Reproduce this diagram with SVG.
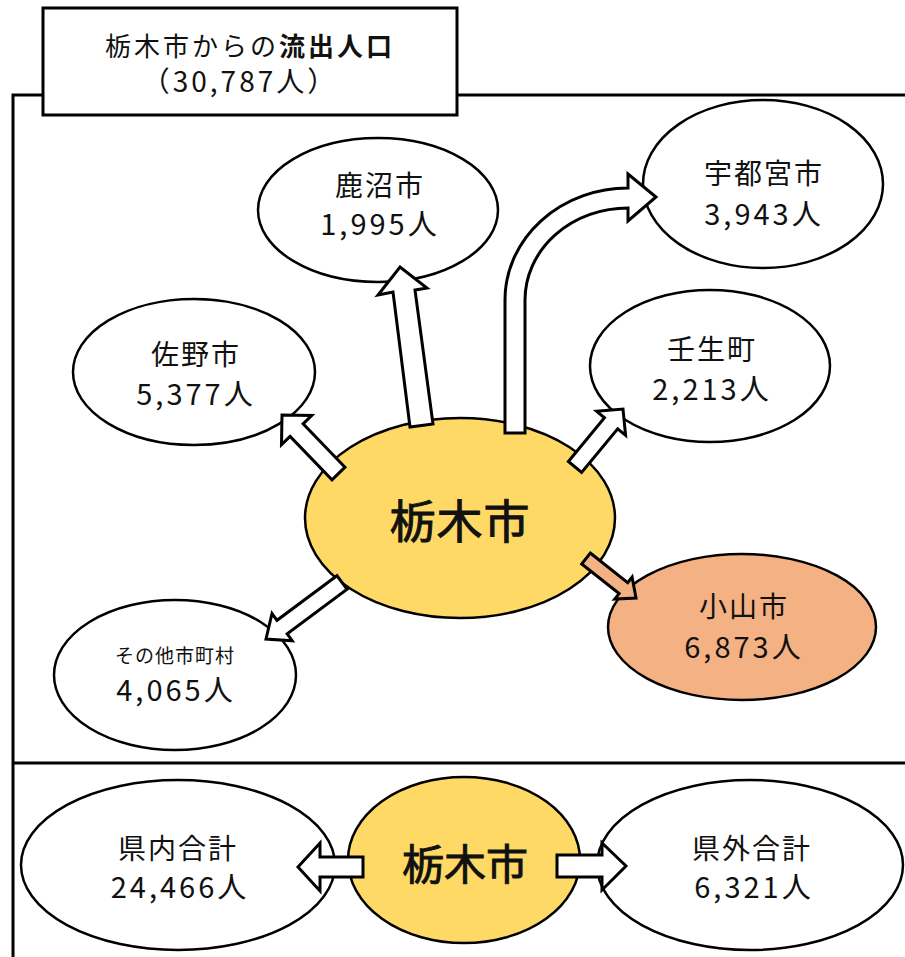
<svg xmlns="http://www.w3.org/2000/svg" width="905" height="957" viewBox="0 0 905 957">
<style>
text{font-family:"Noto Sans CJK JP","Noto Sans",sans-serif;fill:#111;text-anchor:middle;dominant-baseline:central}
.node{fill:#fff;stroke:#000;stroke-width:2.5}
.center{fill:#FFD966;stroke:#000;stroke-width:2.5}
.oyama{fill:#F4B183;stroke:#000;stroke-width:2.5}
.arr{fill:#fff;stroke:#000;stroke-width:3;stroke-linejoin:miter}
.arrs{fill:#F4B183;stroke:#000;stroke-width:3;stroke-linejoin:miter}
.frame{fill:none;stroke:#000;stroke-width:3}
.lbl{font-size:28px;letter-spacing:2px}
.num{font-size:29px;letter-spacing:3px}
.big{stroke:#111;stroke-width:0.9}
</style>
<rect width="905" height="957" fill="#fff"/>
<g id="frame">
<path class="frame" d="M13,957 V95 H43 M457,95 H905 M13,763 H905"/>
</g>
<g id="title">
<rect x="43" y="8" width="414" height="107" fill="#fff" stroke="#000" stroke-width="3"/>
<text x="250" y="44" style="font-size:26px;letter-spacing:3px">栃木市からの<tspan font-weight="bold">流出人口</tspan></text>
<text x="240" y="80" style="font-size:28px;letter-spacing:3px">（30,787人）</text>
</g>
<g id="kanuma">
<ellipse class="node" cx="378" cy="210" rx="120" ry="72"/>
<text class="lbl" x="380" y="184">鹿沼市</text>
<text class="num" x="380" y="222">1,995人</text>
</g>
<g id="utsunomiya">
<ellipse class="node" cx="763" cy="184" rx="120" ry="84"/>
<text class="lbl" x="764" y="172">宇都宮市</text>
<text class="num" x="764" y="212">3,943人</text>
</g>
<g id="sano">
<ellipse class="node" cx="194" cy="372" rx="121" ry="73"/>
<text class="lbl" x="196" y="353">佐野市</text>
<text class="num" x="196" y="392">5,377人</text>
</g>
<g id="mibu">
<ellipse class="node" cx="710" cy="366" rx="120" ry="76"/>
<text class="lbl" x="712" y="348">壬生町</text>
<text class="num" x="712" y="387">2,213人</text>
</g>
<g id="tochigi">
<ellipse class="center" cx="460" cy="518" rx="155" ry="100"/>
<text class="big" x="460" y="518" style="font-size:46px;letter-spacing:1px">栃木市</text>
</g>
<g id="oyama">
<ellipse class="oyama" cx="742" cy="627" rx="134" ry="73"/>
<text class="lbl" x="744" y="605">小山市</text>
<text class="num" x="744" y="645">6,873人</text>
</g>
<g id="others">
<ellipse class="node" cx="175" cy="675" rx="121" ry="75"/>
<text x="175" y="654" style="font-size:19px;letter-spacing:1px">その他市町村</text>
<text class="num" x="176" y="688">4,065人</text>
</g>
<g id="kennai">
<ellipse class="node" cx="178" cy="865" rx="157" ry="85"/>
<text class="lbl" x="178" y="847">県内合計</text>
<text class="num" x="180" y="885">24,466人</text>
</g>
<g id="tochigi2">
<ellipse class="center" cx="464" cy="860" rx="116" ry="83"/>
<text class="big" x="465" y="861" style="font-size:42px">栃木市</text>
</g>
<g id="kengai">
<ellipse class="node" cx="750" cy="865" rx="153" ry="85"/>
<text class="lbl" x="752" y="847">県外合計</text>
<text class="num" x="754" y="885">6,321人</text>
</g>
<g id="connectors">
<polygon class="arr" points="400,267 427,288 415,290 433,424 410,427 393,292 378,295"/>
<path class="arr" d="M505,433 L505,300 A123,112 0 0 1 628,188 L628,174 L656,197 L628,221 L628,208 A103,92 0 0 0 525,300 L525,433 Z"/>
<polygon class="arr" points="345,467.2 303.1,423.8 311.7,415.5 282,415 281.5,444.7 290.1,436.4 332,479.8"/>
<polygon class="arr" points="568.4,461.5 604.5,417.8 596.6,411.3 623,409 625.6,435.3 617.7,428.8 581.6,472.5"/>
<polygon class="arrs" points="590.3,553 627.7,582.6 632.1,577.1 636,598 614.7,599.1 619.1,593.6 581.7,564"/>
<polygon class="arr" points="336.9,575.7 277,620.3 272,613.5 266,639 292.2,640.7 287.2,633.9 347.1,589.3"/>
<polygon class="arr" points="363,857 320,857 320,843 298,867 320,891 320,877 363,877"/>
<polygon class="arr" points="557,855 602,855 602,843 626,866 602,890 602,877 557,877"/>
</g>
</svg>
